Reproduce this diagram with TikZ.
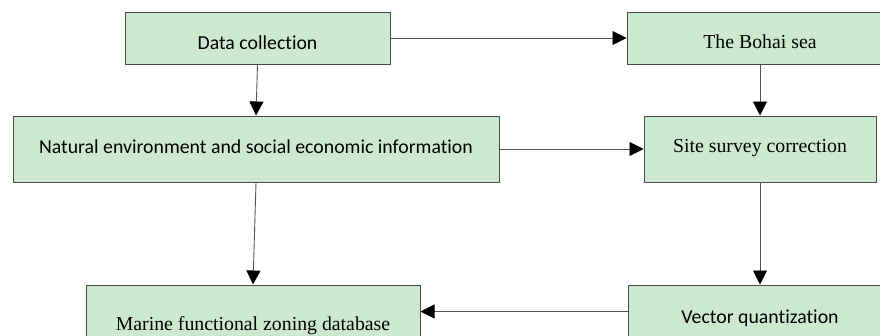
\documentclass[tikz,border=0pt]{standalone}
\usepackage{fontspec}
\setmainfont{Liberation Serif}
\newfontfamily\calfont[Ligatures=NoCommon]{Carlito}
\usetikzlibrary{arrows.meta,calc}
\definecolor{boxfill}{HTML}{CCE8CF}
\definecolor{boxline}{HTML}{4A4A4A}
\definecolor{linkline}{HTML}{555555}
\tikzset{
  flowbox/.style={draw=boxline, line width=1pt, fill=boxfill, rectangle, inner sep=0pt},
  sanstext/.style={font=\calfont\fontsize{19.8}{22}\selectfont, text=black},
  seriftext/.style={font=\fontsize{19.8}{22}\selectfont, text=black},
  link/.style={draw=linkline, line width=0.9pt, -{Triangle[length=14pt,width=14pt,fill=black,color=black]}}
}
\begin{document}
\begin{tikzpicture}[x=1pt, y=-1pt]
\useasboundingbox (0,0) rectangle (880,335);
\clip (0,0) rectangle (880,335);

% boxes
\node[flowbox, minimum width=265pt, minimum height=52pt,
  label={[sanstext, yshift=-5pt]center:Data collection}] (data) at (257.5,38) {};
\node[flowbox, minimum width=266pt, minimum height=52pt,
  label={[seriftext, yshift=-4pt]center:The Bohai sea}] (bohai) at (760,38) {};
\node[flowbox, minimum width=486pt, minimum height=66pt,
  label={[sanstext, yshift=2pt]center:Natural environment and social economic information}] (natural) at (256,149) {};
\node[flowbox, minimum width=232pt, minimum height=66pt,
  label={[seriftext, yshift=1pt]center:Site survey correction}] (site) at (760,149) {};
\node[flowbox, minimum width=334pt, minimum height=84pt,
  label={[seriftext, yshift=1pt]center:Marine functional zoning database}] (marine) at (253,327) {};
\node[flowbox, minimum width=264pt, minimum height=64pt,
  label={[sanstext, yshift=-1pt]center:Vector quantization}] (vector) at (760,317) {};

% connectors
\coordinate (vqout) at ($(vector.north west)+(0,27)$);
\draw[link] (data.east) -- (bohai.west);
\draw[link] (data.south) -- (natural.north);
\draw[link] (bohai.south) -- (site.north);
\draw[link] (natural.east) -- (site.west);
\draw[link] (natural.south) -- (marine.north);
\draw[link] (site.south) -- (vector.north);
\draw[link] (vqout) -- (marine.east |- vqout);
\end{tikzpicture}
\end{document}
